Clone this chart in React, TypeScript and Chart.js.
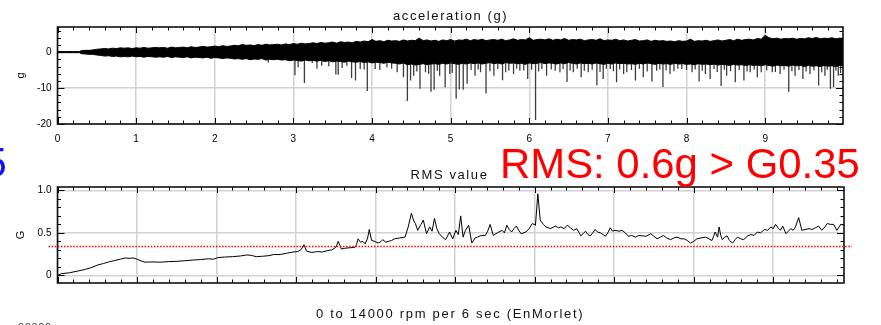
import React, { useEffect, useRef } from "react";
import { Chart, registerables } from "chart.js";

Chart.register(...registerables);
Chart.defaults.font.family = "'Liberation Sans', Arial, sans-serif";
Chart.defaults.color = "#000";

// ---------- top panel: acceleration (g) ----------
const ENV_T = [
  0, 0.1, 0.2, 0.28,
  0.30, 0.35, 0.40, 0.45, 0.50, 0.55, 0.60, 0.65, 0.70, 0.75,
  0.80, 0.85, 0.90, 0.95, 1.00, 1.05, 1.10, 1.15, 1.20, 1.25,
  1.30, 1.35, 1.40, 1.45, 1.50, 1.55, 1.60, 1.65, 1.70, 1.75,
  1.80, 1.85, 1.90, 1.95, 2.00, 2.05, 2.10, 2.15, 2.20, 2.25,
  2.30, 2.35, 2.40, 2.45, 2.50, 2.55, 2.60, 2.65, 2.70, 2.75,
  2.80, 2.85, 2.90, 2.95, 3.00, 3.05, 3.10, 3.15, 3.20, 3.25,
  3.30, 3.35, 3.40, 3.45, 3.50, 3.55, 3.60, 3.65, 3.70, 3.75,
  3.80, 3.85, 3.90, 3.95, 4.00, 4.05, 4.10, 4.15, 4.20, 4.25,
  4.30, 4.35, 4.40, 4.45, 4.50, 4.55, 4.60, 4.65, 4.70, 4.75,
  4.80, 4.85, 4.90, 4.95, 5.00, 5.05, 5.10, 5.15, 5.20, 5.25,
  5.30, 5.35, 5.40, 5.45, 5.50, 5.55, 5.60, 5.65, 5.70, 5.75,
  5.80, 5.85, 5.90, 5.95, 6.00, 6.05, 6.10, 6.15, 6.20, 6.25,
  6.30, 6.35, 6.40, 6.45, 6.50, 6.55, 6.60, 6.65, 6.70, 6.75,
  6.80, 6.85, 6.90, 6.95, 7.00, 7.05, 7.10, 7.15, 7.20, 7.25,
  7.30, 7.35, 7.40, 7.45, 7.50, 7.55, 7.60, 7.65, 7.70, 7.75,
  7.80, 7.85, 7.90, 7.95, 8.00, 8.05, 8.10, 8.15, 8.20, 8.25,
  8.30, 8.35, 8.40, 8.45, 8.50, 8.55, 8.60, 8.65, 8.70, 8.75,
  8.80, 8.85, 8.90, 8.95, 9.00, 9.05, 9.10, 9.15, 9.20, 9.25,
  9.30, 9.35, 9.40, 9.45, 9.50, 9.55, 9.60, 9.65, 9.70, 9.75,
  9.80, 9.85, 9.90, 9.95, 9.99,
];
const ACC_UPPER = [
  0.15, 0.15, 0.15, 0.15,
  0.4, 0.5, 0.5, 0.6, 0.8, 0.9, 1.0, 0.9, 1.1, 1.0,
  1.2, 1.1, 1.2, 1.0, 1.2, 1.1, 1.3, 1.1, 1.2, 1.3,
  1.2, 1.3, 1.1, 1.4, 1.2, 1.3, 1.4, 1.2, 1.5, 1.3,
  1.4, 1.6, 1.4, 1.5, 1.7, 1.5, 1.8, 1.6, 1.7, 1.9,
  1.8, 2.1, 1.9, 2.0, 1.8, 2.1, 1.9, 2.2, 2.0, 2.1,
  2.2, 2.0, 2.3, 2.1, 2.4, 2.2, 2.5, 2.3, 2.4, 2.6,
  2.4, 2.7, 2.5, 2.6, 2.8, 2.5, 2.9, 2.7, 2.8, 2.6,
  3.0, 2.8, 3.1, 2.9, 3.5, 3.0, 3.2, 2.9, 3.3, 3.1,
  3.2, 3.0, 3.4, 3.1, 3.3, 3.2, 3.9, 3.2, 3.4, 3.1,
  3.3, 3.0, 3.4, 3.2, 3.5, 3.1, 3.4, 3.3, 3.6, 3.2,
  3.5, 3.3, 3.6, 3.2, 3.4, 3.5, 3.3, 3.6, 3.2, 3.4,
  3.7, 3.3, 3.5, 3.4, 4.0, 3.3, 3.5, 3.6, 3.4, 3.7,
  3.3, 3.6, 3.4, 3.8, 3.3, 3.5, 3.4, 3.6, 3.2, 3.4,
  3.5, 3.3, 3.7, 3.2, 3.4, 3.3, 3.6, 3.2, 3.4, 3.1,
  3.3, 3.5, 3.1, 3.2, 3.4, 3.0, 3.3, 3.1, 3.2, 3.0,
  3.1, 2.9, 3.2, 3.0, 3.1, 3.6, 3.0, 3.2, 3.1, 3.3,
  3.0, 3.2, 3.4, 3.1, 3.3, 3.5, 3.2, 3.6, 3.3, 3.5,
  3.6, 3.4, 3.8, 3.6, 4.7, 4.0, 3.7, 3.9, 3.6, 3.8,
  3.7, 3.9, 3.6, 3.8, 3.7, 4.0, 3.8, 4.1, 3.7, 3.9,
  3.8, 4.0, 3.7, 3.9, 3.8,
];
const ACC_LOWER = [
  -0.15, -0.15, -0.15, -0.15,
  -0.4, -0.5, -0.6, -0.6, -0.8, -0.9, -1.1, -1.0, -1.2, -1.1,
  -1.3, -1.2, -1.3, -1.1, -1.3, -1.2, -1.4, -1.2, -1.3, -1.4,
  -1.3, -1.4, -1.2, -1.5, -1.3, -1.4, -1.5, -1.3, -1.6, -1.4,
  -1.5, -1.6, -1.4, -1.7, -1.5, -1.6, -1.8, -1.6, -1.7, -1.9,
  -1.8, -2.0, -1.8, -2.1, -1.9, -2.0, -1.8, -2.2, -2.0, -2.1,
  -2.0, -2.2, -2.1, -2.4, -2.2, -2.3, -2.5, -2.2, -2.4, -2.3,
  -2.5, -2.3, -2.6, -2.4, -2.7, -2.5, -2.6, -2.8, -2.5, -2.7,
  -2.8, -2.6, -2.9, -2.7, -3.0, -2.8, -2.9, -3.1, -2.8, -3.0,
  -3.1, -3.3, -3.0, -3.5, -3.3, -3.6, -3.4, -3.2, -3.5, -3.3,
  -3.2, -3.4, -3.1, -3.3, -3.0, -3.2, -3.4, -3.1, -3.3, -3.0,
  -3.2, -3.0, -3.3, -3.1, -2.9, -3.2, -3.0, -3.3, -2.9, -3.1,
  -3.0, -3.2, -3.1, -3.4, -3.0, -3.2, -3.1, -2.9, -3.2, -3.0,
  -3.1, -3.3, -3.0, -3.2, -2.9, -3.1, -3.3, -3.0, -3.2, -3.1,
  -3.3, -3.0, -3.2, -3.4, -3.1, -3.3, -3.0, -3.2, -3.1, -3.3,
  -3.2, -3.4, -3.1, -3.3, -3.0, -3.2, -3.4, -3.1, -3.3, -3.2,
  -3.4, -3.1, -3.3, -3.2, -3.4, -3.3, -3.5, -3.2, -3.4, -3.3,
  -3.5, -3.3, -3.6, -3.4, -3.5, -3.7, -3.4, -3.6, -3.5, -3.7,
  -3.5, -3.7, -3.6, -3.8, -3.5, -3.7, -3.9, -3.6, -3.8, -3.7,
  -3.9, -3.6, -3.8, -3.7, -4.0, -3.7, -3.9, -3.8, -4.0, -3.7,
  -3.9, -3.8, -4.0, -3.7, -3.8,
];
// deep downward spikes
const SPIKE_T = [
  2.68, 3.02, 3.14, 3.24, 3.36, 3.45, 3.54, 3.57, 3.68, 3.74,
  3.79, 3.85, 3.94, 4.04, 4.19, 4.32, 4.40, 4.45, 4.49, 4.53,
  4.61, 4.68, 4.75, 4.79, 4.86, 4.93, 4.99, 5.07, 5.11, 5.16,
  5.21, 5.31, 5.38, 5.45, 5.55, 5.66, 5.74, 5.80, 5.88, 5.98,
  6.08, 6.16, 6.22, 6.33, 6.48, 6.56, 6.66, 6.75, 6.86, 6.94,
  7.03, 7.11, 7.20, 7.24, 7.35, 7.45, 7.56, 7.62, 7.70, 7.79,
  7.94, 8.07, 8.16, 8.24, 8.30, 8.44, 8.51, 8.62, 8.73, 8.81,
  8.90, 9.09, 9.19, 9.30, 9.38, 9.48, 9.57, 9.68, 9.76, 9.83,
  9.87, 9.93,
];
const SPIKE_G = [
  -2.9, -6.4, -8.6, -3.0, -3.8, -3.9, -6.2, -6.3, -3.8, -7.2,
  -7.9, -4.7, -10.8, -4.7, -4.3, -5.6, -7.0, -13.6, -7.9, -6.6,
  -10.2, -5.6, -11.0, -10.5, -6.6, -9.8, -6.1, -13.0, -10.4, -10.5,
  -8.8, -6.6, -5.6, -11.5, -6.6, -7.8, -5.2, -6.1, -5.2, -7.5,
  -18.9, -4.7, -6.6, -5.2, -8.3, -5.6, -7.0, -5.6, -9.3, -7.5,
  -4.7, -8.4, -6.1, -5.6, -7.9, -7.0, -8.2, -5.2, -9.7, -6.1,
  -4.7, -5.6, -8.2, -6.1, -7.5, -9.4, -6.6, -8.4, -7.9, -5.6,
  -7.0, -5.6, -6.1, -11.0, -6.6, -7.5, -6.1, -9.3, -6.6, -10.2,
  -9.8, -6.6,
];
// short downward spikes (fuzz under the band)
const SHORT_T = [
  3.06, 3.30, 3.62, 3.90, 4.10, 4.25, 4.57, 4.72, 4.83, 5.02,
  5.26, 5.35, 5.50, 5.60, 5.70, 5.84, 5.93, 6.03, 6.12, 6.28,
  6.39, 6.43, 6.52, 6.61, 6.70, 6.80, 6.90, 6.98, 7.07, 7.15,
  7.30, 7.40, 7.50, 7.66, 7.74, 7.84, 7.89, 8.00, 8.11, 8.20,
  8.35, 8.39, 8.48, 8.56, 8.67, 8.77, 8.86, 8.95, 9.02, 9.13,
  9.24, 9.34, 9.43, 9.52, 9.62, 9.72, 9.79, 9.90, 9.96,
];
const SHORT_G = [
  -4.2, -4.6, -4.4, -4.8, -5.0, -4.6, -5.4, -6.0, -5.2, -5.8,
  -5.0, -4.8, -5.3, -4.7, -5.6, -4.6, -5.1, -4.9, -5.4, -4.8,
  -5.6, -4.7, -5.1, -4.6, -5.2, -4.9, -5.5, -4.6, -5.3, -4.8,
  -5.0, -4.6, -5.4, -4.8, -5.1, -5.3, -4.6, -5.0, -4.8, -5.2,
  -4.7, -5.5, -4.9, -5.3, -5.0, -5.4, -4.8, -5.6, -5.1, -5.5,
  -4.9, -5.3, -5.0, -5.4, -5.1, -5.6, -4.9, -5.2, -5.8,
];
const TOP_X_TICKS = [0, 1, 2, 3, 4, 5, 6, 7, 8, 9];
const TOP_Y_TICKS = [-20, -10, 0];

// ---------- bottom panel: RMS value ----------
const RMS_T = [
  0.00, 0.05, 0.15, 0.25, 0.35, 0.42, 0.50, 0.58, 0.65, 0.72,
  0.79, 0.85, 0.90, 0.95, 1.00, 1.05, 1.10, 1.20, 1.30, 1.40,
  1.50, 1.60, 1.70, 1.80, 1.90, 1.96, 2.02, 2.10, 2.20, 2.30,
  2.38, 2.44, 2.50, 2.58, 2.66, 2.72, 2.80, 2.88, 2.96, 3.02,
  3.06, 3.10, 3.13, 3.20, 3.27, 3.33, 3.39, 3.45, 3.50, 3.53,
  3.57, 3.62, 3.68, 3.74, 3.76, 3.78, 3.81, 3.84, 3.87, 3.90,
  3.92, 3.95, 3.99, 4.03, 4.07, 4.09, 4.13, 4.16, 4.20, 4.24,
  4.30, 4.37, 4.41, 4.45, 4.48, 4.50, 4.53, 4.57, 4.60, 4.64,
  4.68, 4.71, 4.74, 4.77, 4.80, 4.84, 4.88, 4.93, 4.97, 5.01,
  5.04, 5.07, 5.10, 5.13, 5.17, 5.21, 5.25, 5.28, 5.33, 5.38,
  5.41, 5.44, 5.48, 5.53, 5.59, 5.62, 5.65, 5.68, 5.71, 5.74,
  5.77, 5.80, 5.83, 5.89, 5.93, 5.97, 6.01, 6.04, 6.07, 6.11,
  6.14, 6.20, 6.26, 6.30, 6.33, 6.37, 6.41, 6.45, 6.49, 6.53,
  6.56, 6.58, 6.61, 6.64, 6.67, 6.70, 6.73, 6.76, 6.79, 6.83,
  6.86, 6.89, 6.92, 6.95, 6.98, 7.01, 7.06, 7.10, 7.14, 7.18,
  7.22, 7.27, 7.31, 7.35, 7.40, 7.46, 7.50, 7.54, 7.58, 7.62,
  7.66, 7.71, 7.75, 7.79, 7.84, 7.88, 7.92, 7.96, 8.00, 8.04,
  8.09, 8.15, 8.19, 8.23, 8.25, 8.27, 8.30, 8.32, 8.34, 8.36,
  8.39, 8.42, 8.45, 8.49, 8.52, 8.55, 8.59, 8.63, 8.67, 8.72,
  8.76, 8.80, 8.84, 8.89, 8.93, 8.97, 9.00, 9.03, 9.06, 9.09,
  9.12, 9.16, 9.19, 9.22, 9.25, 9.28, 9.32, 9.36, 9.40, 9.45,
  9.49, 9.53, 9.57, 9.61, 9.65, 9.68, 9.72, 9.76, 9.80, 9.85,
  9.89,
];
const RMS_G = [
  0.00, 0.02, 0.03, 0.05, 0.07, 0.09, 0.12, 0.14, 0.16, 0.175,
  0.19, 0.205, 0.20, 0.205, 0.19, 0.17, 0.155, 0.158, 0.155, 0.162,
  0.165, 0.172, 0.18, 0.186, 0.195, 0.19, 0.21, 0.215, 0.22, 0.228,
  0.24, 0.235, 0.22, 0.225, 0.232, 0.245, 0.245, 0.26, 0.275, 0.28,
  0.30, 0.36, 0.285, 0.27, 0.28, 0.275, 0.29, 0.30, 0.33, 0.40,
  0.31, 0.32, 0.325, 0.33, 0.36, 0.43, 0.39, 0.40, 0.37, 0.44,
  0.54, 0.41, 0.40, 0.38, 0.40, 0.42, 0.39, 0.40, 0.41, 0.43,
  0.44, 0.45, 0.57, 0.73, 0.64, 0.61, 0.53, 0.60, 0.65, 0.49,
  0.57, 0.52, 0.67, 0.55, 0.49, 0.45, 0.42, 0.51, 0.43, 0.53,
  0.48, 0.70, 0.45, 0.53, 0.59, 0.38, 0.44, 0.45, 0.47, 0.47,
  0.52, 0.60, 0.47, 0.50, 0.53, 0.50, 0.59, 0.54, 0.51, 0.55,
  0.58, 0.53, 0.49, 0.51, 0.55, 0.61, 0.59, 0.96, 0.65, 0.60,
  0.57, 0.55, 0.58, 0.56, 0.57, 0.55, 0.59, 0.56, 0.53, 0.55,
  0.50, 0.465, 0.49, 0.52, 0.48, 0.465, 0.50, 0.54, 0.51, 0.50,
  0.48, 0.46, 0.50, 0.56, 0.52, 0.53, 0.52, 0.53, 0.50, 0.46,
  0.47, 0.45, 0.47, 0.465, 0.46, 0.49, 0.46, 0.43, 0.45, 0.47,
  0.44, 0.42, 0.44, 0.45, 0.43, 0.43, 0.41, 0.38, 0.40, 0.43,
  0.44, 0.45, 0.43, 0.41, 0.46, 0.51, 0.45, 0.57, 0.47, 0.42,
  0.45, 0.465, 0.41, 0.38, 0.42, 0.45, 0.43, 0.42, 0.46, 0.48,
  0.47, 0.51, 0.50, 0.54, 0.53, 0.57, 0.55, 0.60, 0.56, 0.53,
  0.58, 0.49, 0.52, 0.55, 0.53, 0.57, 0.68, 0.53, 0.54, 0.55,
  0.54, 0.56, 0.58, 0.53, 0.57, 0.61, 0.60, 0.60, 0.53, 0.60,
  0.59,
];
const THRESHOLD_G = 0.35;
const BOT_X_GRID = [0, 1, 2, 3, 4, 5, 6, 7, 8, 9];
const BOT_Y_TICKS = [0, 0.5, 1];

// ---------- plugins ----------
const framePlugin = {
  id: "frame",
  afterDatasetsDraw(chart: any, _args: any, opts: any) {
    const { ctx, chartArea: a, scales } = chart;
    const xs = scales.x;
    const ys = scales.y;
    ctx.save();
    ctx.strokeStyle = "#000";
    ctx.lineWidth = 1;
    const seg = (x1: number, y1: number, x2: number, y2: number) => {
      ctx.beginPath();
      ctx.moveTo(x1, y1);
      ctx.lineTo(x2, y2);
      ctx.stroke();
    };
    const isMajor = (v: number, major: number) =>
      Math.abs(v / major - Math.round(v / major)) < 1e-6;
    const nx = Math.floor((xs.max - xs.min) / opts.xMinor + 1e-6);
    for (let i = 0; i <= nx; i++) {
      const v = xs.min + i * opts.xMinor;
      const px = Math.round(xs.getPixelForValue(v)) + 0.5;
      const len = isMajor(v, opts.xMajor) ? 6 : 3.5;
      seg(px, a.top, px, a.top + len);
      seg(px, a.bottom, px, a.bottom - len);
    }
    const y0 = Math.ceil(ys.min / opts.yMinor - 1e-6) * opts.yMinor;
    const ny = Math.floor((ys.max - y0) / opts.yMinor + 1e-6);
    for (let i = 0; i <= ny; i++) {
      const v = y0 + i * opts.yMinor;
      const py = Math.round(ys.getPixelForValue(v)) + 0.5;
      const len = isMajor(v, opts.yMajor) ? 7 : 3.5;
      seg(a.left, py, a.left + len, py);
      seg(a.right, py, a.right - len, py);
    }
    ctx.lineWidth = 1.6;
    ctx.strokeStyle = "#111";
    ctx.strokeRect(a.left, a.top, a.width, a.height);
    ctx.restore();
  },
};

const thresholdPlugin = {
  id: "threshold",
  afterDraw(chart: any, _args: any, opts: any) {
    if (opts.value === undefined) return;
    const { ctx, chartArea: a, scales } = chart;
    const py = Math.round(scales.y.getPixelForValue(opts.value)) + 0.5;
    ctx.save();
    ctx.strokeStyle = "#ff0000";
    ctx.lineWidth = 1.6;
    ctx.setLineDash([1.5, 1.6]);
    ctx.beginPath();
    ctx.moveTo(a.left - 9, py);
    ctx.lineTo(a.right + 8, py);
    ctx.stroke();
    ctx.restore();
  },
};

const tickFont = { size: 10, family: "'Liberation Sans', Arial, sans-serif" };
const gridStyle = { color: "#d2d2d2", lineWidth: 1.5, drawTicks: false };

const spikeSegments = (ts: number[], gs: number[]) => {
  const out: any[] = [];
  ts.forEach((t, i) => {
    out.push({ x: t, y: 0 });
    out.push({ x: t, y: gs[i] });
    out.push({ x: t, y: null });
  });
  return out;
};

function TopChart() {
  const ref = useRef<HTMLCanvasElement>(null);
  useEffect(() => {
    const chart = new Chart(ref.current!, {
      type: "line",
      data: {
        datasets: [
          {
            data: ENV_T.map((t, i) => ({ x: t, y: ACC_UPPER[i] })),
            borderColor: "#000",
            borderWidth: 1,
            backgroundColor: "#000",
            pointRadius: 0,
            fill: "+1",
          },
          {
            data: ENV_T.map((t, i) => ({ x: t, y: ACC_LOWER[i] })),
            borderColor: "#000",
            borderWidth: 1,
            pointRadius: 0,
            fill: false,
          },
          {
            data: spikeSegments(SPIKE_T, SPIKE_G),
            borderColor: "#3c3c3c",
            borderWidth: 1.3,
            pointRadius: 0,
            spanGaps: false,
            fill: false,
          },
          {
            data: spikeSegments(SHORT_T, SHORT_G),
            borderColor: "#333",
            borderWidth: 1.2,
            pointRadius: 0,
            spanGaps: false,
            fill: false,
          },
        ],
      },
      options: {
        responsive: false,
        animation: false,
        devicePixelRatio: 1,
        events: [],
        layout: { padding: { left: 0, right: 38, top: 27, bottom: 4 } },
        plugins: {
          legend: { display: false },
          tooltip: { enabled: false },
          frame: { xMinor: 0.2, xMajor: 1, yMinor: 2, yMajor: 10 },
        } as any,
        scales: {
          x: {
            type: "linear",
            min: 0,
            max: 9.99,
            afterBuildTicks: (s: any) => {
              s.ticks = TOP_X_TICKS.map((v) => ({ value: v }));
            },
            afterFit: (s: any) => {
              s.height = 22;
            },
            grid: gridStyle,
            border: { display: false },
            ticks: { font: tickFont, color: "#000", padding: 9, maxRotation: 0, autoSkip: false },
          },
          y: {
            type: "linear",
            min: -20,
            max: 7,
            afterBuildTicks: (s: any) => {
              s.ticks = TOP_Y_TICKS.map((v) => ({ value: v }));
            },
            afterFit: (s: any) => {
              s.width = 57.5;
            },
            grid: gridStyle,
            border: { display: false },
            ticks: { font: tickFont, color: "#000", padding: 6 },
            title: {
              display: true,
              text: "g",
              color: "#000",
              font: { size: 11, family: "'Liberation Sans', Arial, sans-serif" },
              padding: { top: 14, bottom: 0 },
            },
          },
        },
      },
      plugins: [framePlugin],
    } as any);
    return () => chart.destroy();
  }, []);
  return (
    <canvas
      ref={ref}
      width={881}
      height={150}
      style={{ position: "absolute", left: 0, top: 0, width: 881, height: 150 }}
    />
  );
}

function BottomChart() {
  const ref = useRef<HTMLCanvasElement>(null);
  useEffect(() => {
    const chart = new Chart(ref.current!, {
      type: "line",
      data: {
        datasets: [
          {
            data: RMS_T.map((t, i) => ({ x: t, y: RMS_G[i] })),
            borderColor: "#000",
            borderWidth: 1,
            pointRadius: 0,
            fill: false,
          },
        ],
      },
      options: {
        responsive: false,
        animation: false,
        devicePixelRatio: 1,
        events: [],
        layout: { padding: { left: 0, right: 37, top: 37, bottom: 42 } },
        plugins: {
          legend: { display: false },
          tooltip: { enabled: false },
          frame: { xMinor: 0.2, xMajor: 1, yMinor: 0.1, yMajor: 0.5 },
          threshold: { value: THRESHOLD_G },
        } as any,
        scales: {
          x: {
            type: "linear",
            min: 0,
            max: 9.89,
            afterBuildTicks: (s: any) => {
              s.ticks = BOT_X_GRID.map((v) => ({ value: v }));
            },
            afterFit: (s: any) => {
              s.height = 0;
            },
            grid: gridStyle,
            border: { display: false },
            ticks: { display: false },
          },
          y: {
            type: "linear",
            min: -0.09,
            max: 1.04,
            afterBuildTicks: (s: any) => {
              s.ticks = BOT_Y_TICKS.map((v) => ({ value: v }));
            },
            afterFit: (s: any) => {
              s.width = 57.5;
            },
            grid: gridStyle,
            border: { display: false },
            ticks: { font: tickFont, color: "#000", padding: 6 },
            title: {
              display: true,
              text: "G",
              color: "#000",
              font: { size: 11, family: "'Liberation Sans', Arial, sans-serif" },
              padding: { top: 14, bottom: 0 },
            },
          },
        },
      },
      plugins: [framePlugin, thresholdPlugin],
    } as any);
    return () => chart.destroy();
  }, []);
  return (
    <canvas
      ref={ref}
      width={881}
      height={175}
      style={{ position: "absolute", left: 0, top: 150, width: 881, height: 175 }}
    />
  );
}

const label = (extra: React.CSSProperties): React.CSSProperties => ({
  position: "absolute",
  fontFamily: "'Liberation Sans', Arial, sans-serif",
  whiteSpace: "nowrap",
  lineHeight: 1,
  ...extra,
});

export default function App() {
  return (
    <div
      style={{
        position: "fixed",
        left: 0,
        top: 0,
        width: 881,
        height: 325,
        overflow: "hidden",
        background: "#fff",
      }}
    >
      <TopChart />
      <BottomChart />
      <div style={label({ left: 393, top: 8.5, fontSize: 13, letterSpacing: "1.6px", color: "#111" })}>
        acceleration (g)
      </div>
      <div style={label({ left: 410.5, top: 168, fontSize: 13, letterSpacing: "1.6px", color: "#111" })}>
        RMS value
      </div>
      <div style={label({ left: 500, top: 142.8, fontSize: 41.9, color: "#ff0000" })}>
        RMS: 0.6g &gt; G0.35
      </div>
      <div style={label({ left: -16.5, top: 141.5, fontSize: 41.9, color: "#1010ff" })}>5</div>
      <div style={label({ left: 316, top: 307.3, fontSize: 13, letterSpacing: "1.7px", color: "#111" })}>
        0 to 14000 rpm per 6 sec (EnMorlet)
      </div>
      <div style={label({ left: 18, top: 321.8, fontSize: 11, letterSpacing: "0.6px", color: "#444" })}>
        00000
      </div>
    </div>
  );
}
